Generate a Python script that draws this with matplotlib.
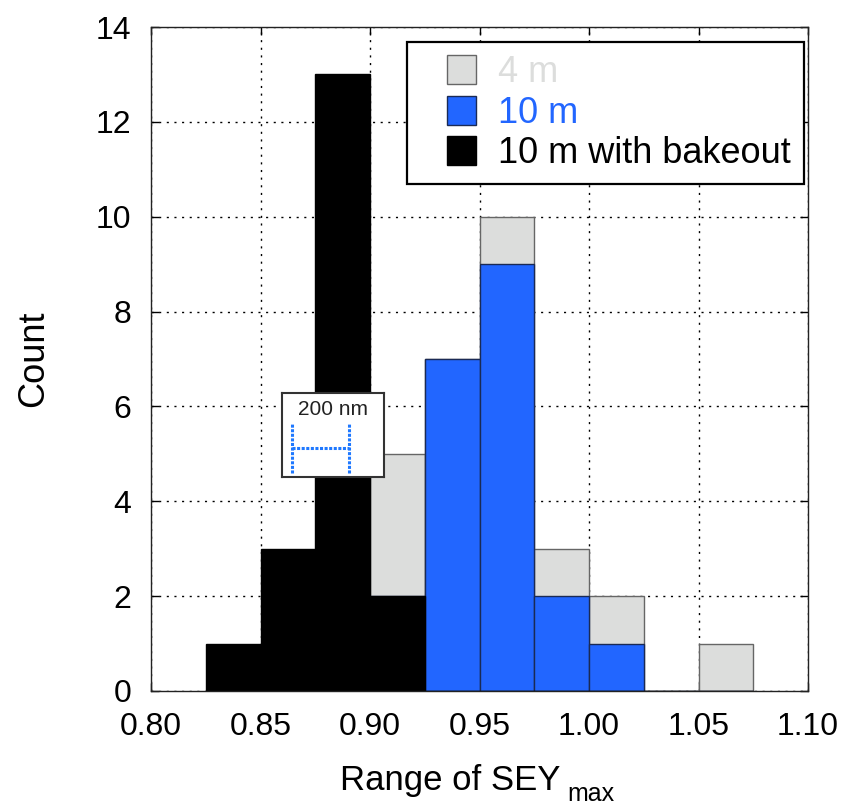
import matplotlib
matplotlib.use('Agg')
import matplotlib.pyplot as plt
from matplotlib.patches import Rectangle
from matplotlib.container import BarContainer
from matplotlib.legend_handler import HandlerPatch, update_from_first_child

plt.rcParams['font.family'] = ['Liberation Sans', 'DejaVu Sans']

# histogram bins, width 0.025
bin_left = [0.825, 0.850, 0.875, 0.900, 0.925, 0.950, 0.975, 1.000, 1.025, 1.050]
bin_width = 0.025

# counts per bin
count_4m = [0, 0, 0, 5, 7, 10, 3, 2, 0, 1]
count_10m = [0, 0, 0, 2, 7, 9, 2, 1, 0, 0]
count_10m_bake = [1, 3, 13, 2, 0, 0, 0, 0, 0, 0]

xticks = [0.80, 0.85, 0.90, 0.95, 1.00, 1.05, 1.10]
yticks = [0, 2, 4, 6, 8, 10, 12, 14]

grey = '#dcdddc'
blue = '#2266ff'

fig = plt.figure(figsize=(8.55, 8.07), dpi=100)
ax = fig.add_axes([151 / 855, 1 - 691 / 807, 657 / 855, 664 / 807])

ax.bar(bin_left, count_4m, width=bin_width, align='edge', color=grey,
       edgecolor='#666666', linewidth=1, zorder=2, label='4 m')
ax.bar(bin_left, count_10m, width=bin_width, align='edge', color=blue,
       edgecolor='#1a2a55', linewidth=1, zorder=3, label='10 m')
ax.bar(bin_left, count_10m_bake, width=bin_width, align='edge', color='black',
       edgecolor='black', linewidth=1, zorder=4, label='10 m with bakeout')

ax.set_xlim(0.80, 1.10)
ax.set_ylim(0, 14)
ax.set_xticks(xticks)
ax.set_xticklabels(['%.2f' % t for t in xticks])
ax.set_yticks(yticks)
ax.grid(True, linestyle=(0, (1.5, 4)), color='black', linewidth=1, zorder=0)
ax.set_axisbelow(True)
ax.tick_params(direction='in', top=True, right=True, length=6, width=1)
ax.tick_params(axis='y', labelsize=23, pad=14)
ax.tick_params(axis='x', labelsize=23, pad=15)
for s in ax.spines.values():
    s.set_linewidth(1)
    s.set_color('#222222')
    s.set_zorder(5)

ax.set_ylabel('Count', fontsize=26)
ax.yaxis.set_label_coords(-0.152, 0.5)
fig.text(560 / 855, 1 - 790 / 807, 'Range of SEY', ha='right', va='baseline',
         fontsize=25)
fig.text(567 / 855, 1 - 801 / 807, 'max', ha='left', va='baseline', fontsize=18)


def square_patch(legend, orig_handle, xdescent, ydescent, width, height, fontsize):
    side = height
    return Rectangle((-xdescent + width - side, -ydescent), side, side)


sq_handler = HandlerPatch(patch_func=square_patch, update_func=update_from_first_child)
leg = ax.legend(loc='upper right', bbox_to_anchor=(0.994, 0.977), fontsize=26,
                frameon=True, fancybox=False, edgecolor='black', framealpha=1,
                handlelength=1.55, handleheight=0.86, handletextpad=0.61,
                borderpad=0.36, labelspacing=0.15, borderaxespad=0,
                handler_map={BarContainer: sq_handler})
leg.get_frame().set_linewidth(1.6)
for txt, c in zip(leg.get_texts(), [grey, blue, 'black']):
    txt.set_color(c)

# small inset with 200 nm scale bar
ins = fig.add_axes([282 / 855, 1 - 477 / 807, 102 / 855, 84 / 807])
ins.set_xlim(0, 1)
ins.set_ylim(0, 1)
ins.set_xticks([])
ins.set_yticks([])
for s in ins.spines.values():
    s.set_linewidth(1.5)
    s.set_color('#333333')
ins.text(0.5, 0.8, '200 nm', ha='center', va='center', fontsize=15,
         color='#222222')
bar_kw = dict(color='#1e78ff', linewidth=2.2, linestyle=(0, (1, 0.5)))
ins.plot([0.1, 0.1], [0.05, 0.64], **bar_kw)
ins.plot([0.66, 0.66], [0.05, 0.64], **bar_kw)
ins.plot([0.1, 0.66], [0.35, 0.35], **bar_kw)

fig.savefig('out.png', dpi=100)
